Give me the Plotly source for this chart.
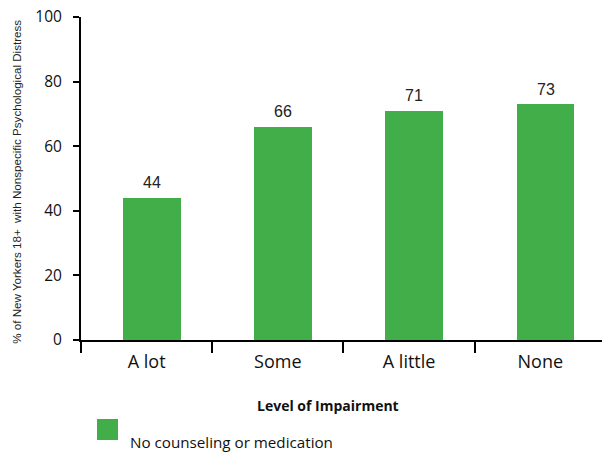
import plotly.graph_objects as go

# Survey results by level of impairment
categories = ["A lot", "Some", "A little", "None"]
values = [44, 66, 71, 73]
series_name = "No counseling or medication"
y_ticks = [0, 20, 40, 60, 80, 100]

GREEN = "#41AE4A"
W, H = 602, 454
ML, MR, MT, MB = 81, 0, 17, 114
PW, PH = W - ML - MR, H - MT - MB

BAR_W = 0.44
BAR_OFF = -0.18  # bars sit slightly right of the category centre


def px_x(px):
    return (px - ML) / PW


def px_y(py):
    return (H - MB - py) / PH


xs = list(range(len(categories)))

fig = go.Figure()
fig.add_trace(go.Bar(
    x=xs, y=values, name=series_name,
    width=BAR_W, offset=BAR_OFF,
    marker=dict(color=GREEN, line=dict(width=0)),
    showlegend=False,
))

# value labels above each bar
for x, v in zip(xs, values):
    fig.add_annotation(
        x=x + BAR_OFF + BAR_W / 2, y=v, text=str(v), showarrow=False,
        yanchor="middle", yshift=15,
        font=dict(family="Liberation Sans, Arial", size=16, color="#222222"),
    )

# y-axis title
fig.add_annotation(
    xref="paper", yref="paper", x=0, y=0.49, xshift=-64,
    text="% of New Yorkers 18+  with Nonspecific Psychological Distress",
    textangle=-90, showarrow=False, xanchor="center", yanchor="middle",
    font=dict(family="Liberation Sans Narrow, Liberation Sans", size=11.6, color="#222222"),
)

# x-axis title
fig.add_annotation(
    xref="paper", yref="paper", x=px_x(328), y=px_y(405),
    text="<b>Level of Impairment</b>", showarrow=False,
    xanchor="center", yanchor="middle",
    font=dict(family="Open Sans", size=14, color="#111111"),
)

# legend
fig.add_shape(
    type="rect", xref="paper", yref="paper",
    x0=px_x(97), x1=px_x(118), y0=px_y(440), y1=px_y(419),
    fillcolor=GREEN, line=dict(width=0),
)
fig.add_annotation(
    xref="paper", yref="paper", x=px_x(128), y=px_y(442),
    text=series_name, showarrow=False, xanchor="left", yanchor="middle",
    font=dict(family="Open Sans", size=15.2, color="#111111"),
)

fig.update_layout(
    width=W, height=H, autosize=False,
    margin=dict(l=ML, r=MR, t=MT, b=MB, pad=0),
    paper_bgcolor="white", plot_bgcolor="white",
    font=dict(family="Open Sans", color="#111111"),
    bargap=0,
)

fig.update_xaxes(
    range=[-0.5, 3.47],
    tickmode="array", tickvals=xs, ticktext=categories,
    ticks="", ticklabelstandoff=4,
    tickfont=dict(family="Open Sans", size=18, color="#111111"),
    showline=True, linecolor="black", linewidth=2,
    showgrid=False, zeroline=False,
    minor=dict(tickmode="array", tickvals=[-0.5, 0.5, 1.5, 2.5],
               ticks="outside", ticklen=11, tickwidth=2, tickcolor="black",
               showgrid=False),
)

fig.update_yaxes(
    range=[0, 100],
    tickmode="array", tickvals=y_ticks,
    ticks="outside", ticklen=6, tickwidth=2, tickcolor="black",
    ticklabelstandoff=8,
    tickfont=dict(family="Open Sans", size=15.5, color="#111111"),
    showline=True, linecolor="black", linewidth=2,
    showgrid=False, zeroline=False,
)

fig.write_html("out.html")
